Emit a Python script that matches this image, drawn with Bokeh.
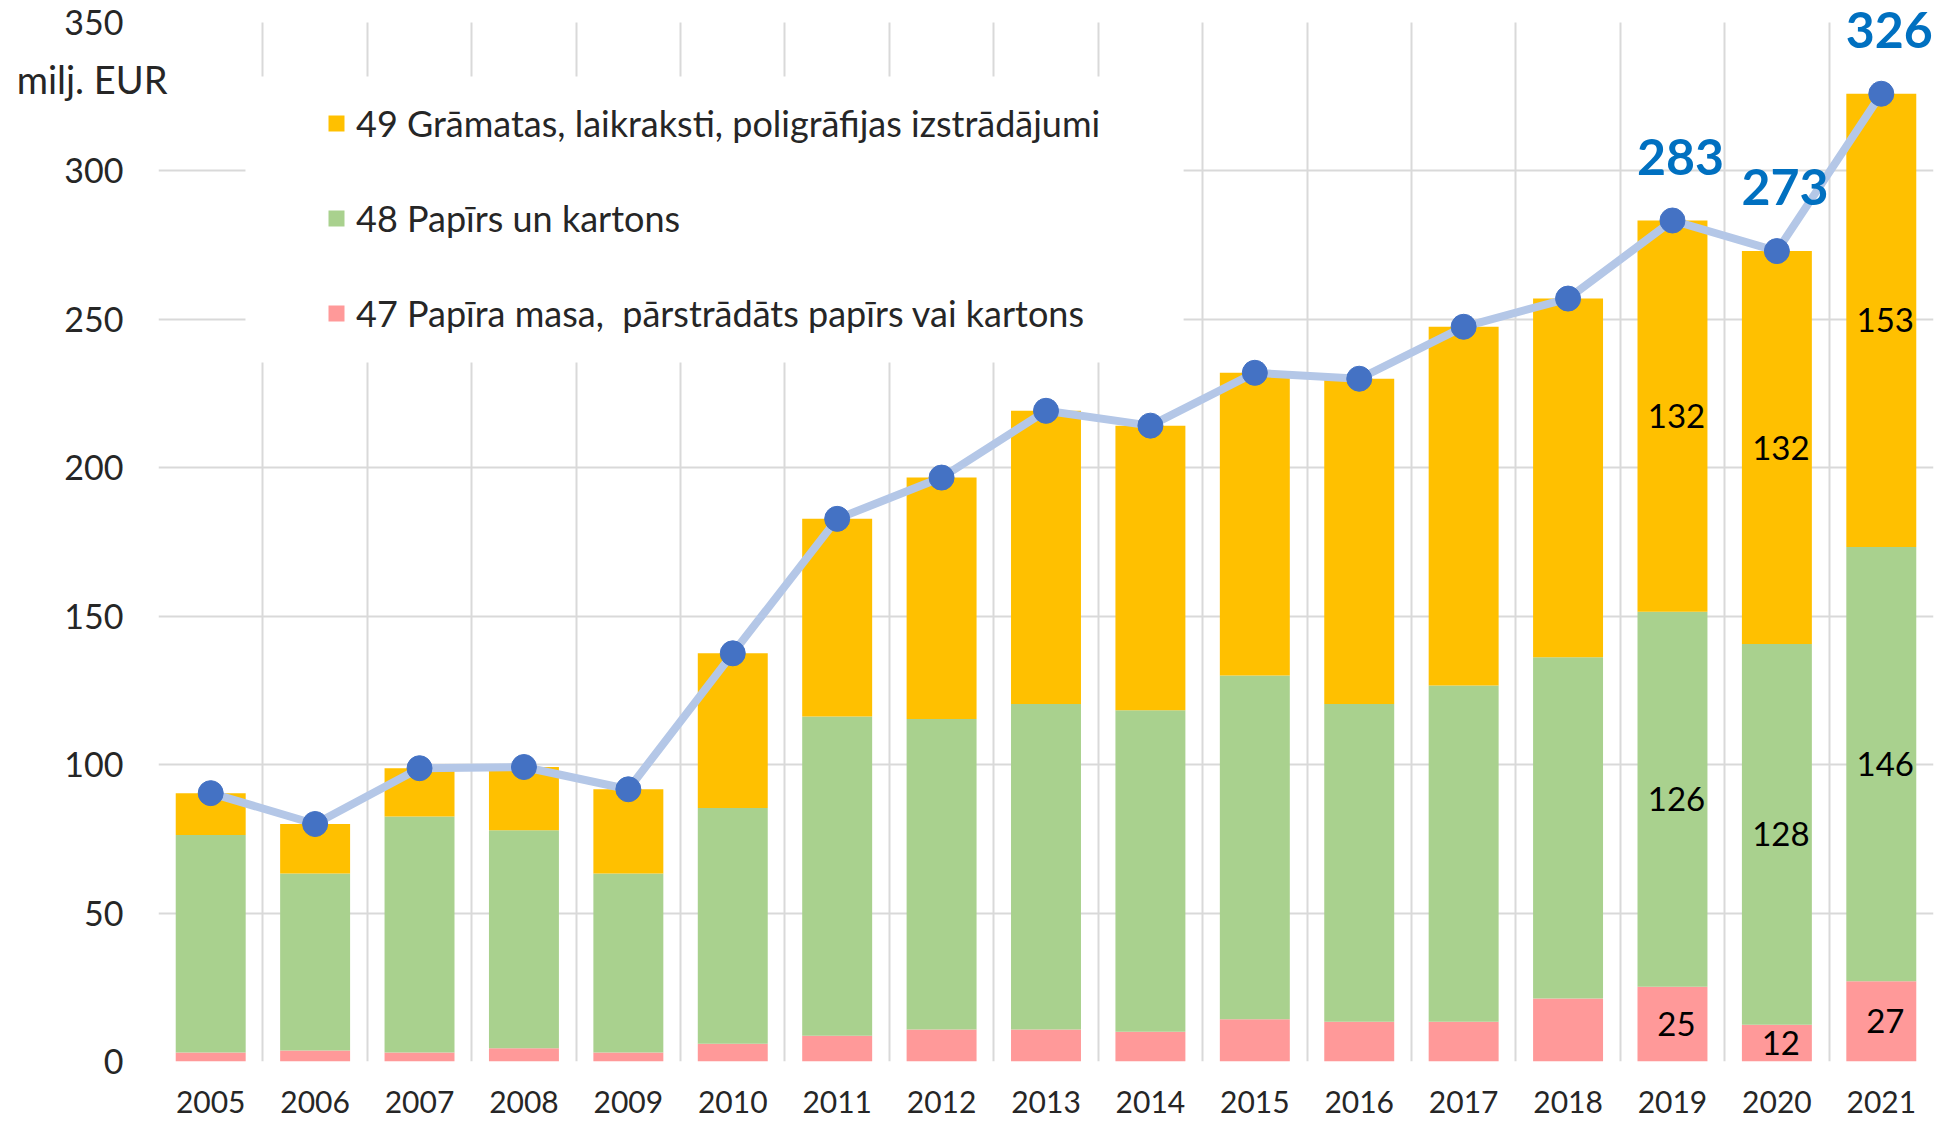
from bokeh.plotting import figure
from bokeh.models import (ColumnDataSource, Range1d, FixedTicker, Legend, LegendItem,
                          LabelSet, BoxAnnotation, LinearAxis)
from bokeh.core.properties import value
from bokeh.embed import file_html
from bokeh.resources import INLINE

# ---- data (milj. EUR) ----
years = ["2005", "2006", "2007", "2008", "2009", "2010", "2011", "2012", "2013",
         "2014", "2015", "2016", "2017", "2018", "2019", "2020", "2021"]
pulp_47 = [3.0, 3.7, 3.0, 4.5, 3.0, 6.0, 8.7, 10.8, 10.8, 10.0, 14.2, 13.4, 13.4,
           21.2, 25.2, 12.4, 27.0]
paper_48 = [73.3, 59.6, 79.5, 73.4, 60.3, 79.4, 107.5, 104.6, 109.6, 108.3, 115.8,
            107.0, 113.3, 115.0, 126.3, 128.2, 146.3]
books_49 = [14.1, 16.7, 16.3, 21.3, 28.4, 52.1, 66.6, 81.3, 98.8, 95.9, 102.0,
            109.6, 120.8, 120.8, 131.8, 132.4, 152.7]
labelled_years = ["2019", "2020", "2021"]
series_names = ["49 Grāmatas, laikraksti, poligrāfijas izstrādājumi",
                "48 Papīrs un kartons",
                "47 Papīra masa,  pārstrādāts papīrs vai kartons"]
y_ticks = [0, 50, 100, 150, 200, 250, 300, 350]
unit_text = "milj. EUR"
unit_at = 331

FONT = "Lato"
C_PULP, C_PAPER, C_BOOKS = "#FF9999", "#A9D18E", "#FFC000"
TXT = "#262626"

# ---- layout (pixels) ----
W, H = 1937, 1120
LEFT, RIGHT_GAP, BOTTOM_GAP, TOP_PAD = 158, 4, 59, 22
frame_h = H - BOTTOM_GAP
y_top = y_ticks[-1] * frame_h / (frame_h - TOP_PAD)   # keep headroom for the total labels

idx = list(range(len(years)))
total = [a + b + c for a, b, c in zip(pulp_47, paper_48, books_49)]
src = ColumnDataSource(dict(x=idx, pulp=pulp_47, paper=paper_48, books=books_49, total=total))

p = figure(width=W, height=H, x_range=Range1d(-0.5, len(years) - 0.5),
           y_range=Range1d(0, y_top), output_backend="svg", toolbar_location=None,
           min_border_left=LEFT, min_border_right=RIGHT_GAP, min_border_top=0,
           min_border_bottom=BOTTOM_GAP)
p.outline_line_color = None
p.background_fill_color = "white"

# grids at category boundaries / y ticks
p.xgrid.ticker = FixedTicker(ticks=[i + 0.5 for i in idx[:-1]])
p.ygrid.ticker = FixedTicker(ticks=y_ticks[:-1])
for g in (p.xgrid[0], p.ygrid[0]):
    g.grid_line_color = "#D9D9D9"
    g.grid_line_width = 2
if "cross_bounds" in p.xgrid[0].properties():
    p.xgrid[0].cross_bounds = (y_ticks[0], y_ticks[-1])
else:
    p.xgrid[0].grid_line_color = None
    p.segment(x0=[i + 0.5 for i in idx[:-1]], x1=[i + 0.5 for i in idx[:-1]],
              y0=y_ticks[0], y1=y_ticks[-1], line_color="#D9D9D9", line_width=2,
              level="underlay")

# axes
p.xaxis.ticker = FixedTicker(ticks=idx)
p.xaxis.major_label_overrides = {i: y for i, y in zip(idx, years)}
p.yaxis.ticker = FixedTicker(ticks=y_ticks)
for ax in (p.xaxis[0], p.yaxis[0]):
    ax.axis_line_color = None
    ax.major_tick_line_color = None
    ax.minor_tick_line_color = None
    ax.major_label_text_font = FONT
    ax.major_label_text_color = TXT
p.xaxis.major_label_text_font_size = "30px"
p.xaxis.major_label_standoff = 23
p.yaxis.major_label_text_font_size = "34px"
p.yaxis.major_label_standoff = 29

# unit text as an extra left axis label (shifted toward the plot)
unit_axis = LinearAxis(ticker=FixedTicker(ticks=[unit_at]),
                       major_label_overrides={unit_at: unit_text},
                       axis_line_color=None, major_tick_line_color=None,
                       minor_tick_line_color=None, major_label_standoff=-112,
                       major_label_text_font=FONT, major_label_text_font_size="38px",
                       major_label_text_color=TXT)
p.add_layout(unit_axis, "left")

# stacked bars
rs = p.vbar_stack(["pulp", "paper", "books"], x="x", width=0.67, source=src,
                  color=[C_PULP, C_PAPER, C_BOOKS], line_color=None)

# total line
p.line("x", "total", source=src, line_color="#B4C7E7", line_width=8)
p.scatter("x", "total", source=src, size=25, fill_color="#4472C4", line_color="#4472C4")

# legend background panel (white) hiding gridlines
panel = BoxAnnotation(left=0.333, right=9.318, bottom=235.5, top=331.8,
                      fill_color="white", fill_alpha=1.0, line_color=None)
p.add_layout(panel)

legend = Legend(items=[LegendItem(label=series_names[0], renderers=[rs[2]]),
                       LegendItem(label=series_names[1], renderers=[rs[1]]),
                       LegendItem(label=series_names[2], renderers=[rs[0]])],
                location=(168, 726), orientation="vertical",
                glyph_width=20, glyph_height=20, label_height=44, label_standoff=10,
                spacing=51, padding=0, margin=0,
                background_fill_alpha=0, border_line_color=None,
                label_text_font=FONT, label_text_font_size="36px", label_text_color=TXT)
p.add_layout(legend)

# value labels for selected years
sel = [years.index(y) for y in labelled_years]
lab_x, lab_y, lab_t = [], [], []
for i in sel:
    base = 0.0
    for v in (pulp_47[i], paper_48[i], books_49[i]):
        lab_x.append(i)
        lab_y.append(base + v / 2)
        lab_t.append(f"{v:.0f}")
        base += v
seg_src = ColumnDataSource(dict(x=lab_x, y=lab_y, t=lab_t))
p.add_layout(LabelSet(x="x", y="y", text="t", source=seg_src, x_offset=4,
                      text_align="center", text_baseline="middle",
                      text_font=value(FONT), text_font_size="33px", text_color="black"))

tot_src = ColumnDataSource(dict(x=sel, y=[total[i] for i in sel],
                                t=[f"{total[i]:.0f}" for i in sel]))
p.add_layout(LabelSet(x="x", y="y", text="t", source=tot_src, x_offset=8, y_offset=64,
                      text_align="center", text_baseline="middle",
                      text_font=value(FONT), text_font_size="50px", text_font_style="bold",
                      text_color="#0070C0"))

open("out.html", "w").write(file_html(p, INLINE))
